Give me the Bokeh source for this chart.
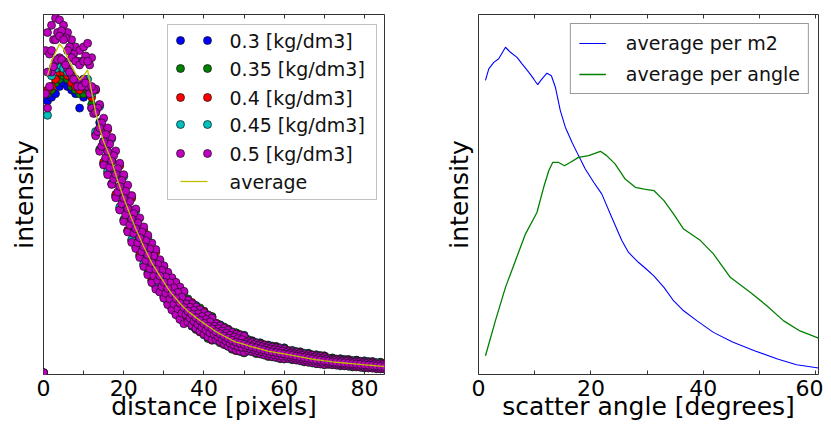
from bokeh.plotting import figure
from bokeh.models import (Range1d, FixedTicker, LinearAxis, BoxAnnotation, Label,
                          Legend, LegendItem)
from bokeh.layouts import row
from bokeh.embed import file_html
from bokeh.resources import INLINE

# ---------------- left panel data ----------------
distance = list(range(86))
half_distance = [d + 0.5 for d in range(85)]

dens_03 = [0.004,
    0.76, 0.77, 0.78, 0.80, 0.81, 0.80, 0.79, 0.78, 0.74, 0.77, 0.78, 0.74,
    0.668, 0.700, 0.585, 0.620, 0.530, 0.556, 0.460, 0.490, 0.400, 0.432,
    0.355, 0.380, 0.305, 0.332, 0.260, 0.292, 0.230, 0.257, 0.196, 0.224, 0.170, 0.198, 0.145,
    0.176, 0.134, 0.192, 0.150, 0.176, 0.134, 0.160, 0.119, 0.138, 0.107, 0.126, 0.095, 0.115, 0.087, 0.109,
    0.080, 0.094, 0.074, 0.088, 0.068, 0.082, 0.063, 0.078, 0.059, 0.074, 0.055, 0.067, 0.051, 0.063, 0.047,
    0.059, 0.043, 0.055, 0.040, 0.052, 0.037, 0.046, 0.034, 0.044, 0.032, 0.042, 0.030, 0.040, 0.028, 0.038,
    0.026, 0.036, 0.024, 0.034, 0.022]

dens_035 = [0.004,
    0.78, 0.79, 0.81, 0.82, 0.83, 0.82, 0.80, 0.79, 0.78, 0.78, 0.79, 0.75,
    0.728, 0.625, 0.647, 0.560, 0.593, 0.495, 0.522, 0.430, 0.461, 0.372,
    0.405, 0.330, 0.355, 0.282, 0.310, 0.243, 0.274, 0.215, 0.239, 0.183, 0.211, 0.157, 0.186,
    0.210, 0.167, 0.125, 0.185, 0.142, 0.100, 0.161, 0.119, 0.088, 0.132, 0.101, 0.070, 0.116, 0.087, 0.060,
    0.097, 0.077, 0.058, 0.087, 0.068, 0.050, 0.079, 0.061, 0.044, 0.073, 0.055, 0.041, 0.064, 0.049, 0.035,
    0.058, 0.043, 0.030, 0.053, 0.038, 0.028, 0.045, 0.034, 0.024, 0.042, 0.031, 0.021, 0.039, 0.028, 0.018,
    0.036, 0.025, 0.016, 0.033, 0.022]

dens_04 = [0.004,
    0.79, 0.80, 0.82, 0.84, 0.84, 0.83, 0.81, 0.80, 0.79, 0.80, 0.80, 0.77,
    0.790, 0.685, 0.590, 0.680, 0.593, 0.500, 0.580, 0.490, 0.400, 0.490,
    0.405, 0.333, 0.400, 0.332, 0.262, 0.340, 0.274, 0.300, 0.239, 0.185, 0.252, 0.198, 0.147,
    0.176, 0.200, 0.158, 0.118, 0.175, 0.134, 0.095, 0.143, 0.113, 0.083, 0.125, 0.095, 0.066, 0.111, 0.084,
    0.065, 0.092, 0.074, 0.057, 0.083, 0.065, 0.049, 0.076, 0.059, 0.043, 0.067, 0.053, 0.040, 0.061, 0.047,
    0.034, 0.055, 0.041, 0.029, 0.050, 0.037, 0.027, 0.043, 0.033, 0.024, 0.040, 0.030, 0.021, 0.037, 0.027,
    0.018, 0.034, 0.024, 0.016, 0.031]

dens_045 = [0.004,
    0.72, 0.83, 0.85, 0.86, 0.85, 0.84, 0.83, 0.82, 0.81, 0.82, 0.82, 0.78,
    0.675, 0.745, 0.647, 0.565, 0.655, 0.556, 0.465, 0.550, 0.461, 0.375,
    0.455, 0.380, 0.308, 0.380, 0.310, 0.245, 0.316, 0.257, 0.200, 0.266, 0.211, 0.158, 0.228,
    0.176, 0.135, 0.190, 0.150, 0.110, 0.166, 0.127, 0.095, 0.137, 0.107, 0.078, 0.119, 0.090, 0.064, 0.108,
    0.080, 0.063, 0.089, 0.071, 0.054, 0.080, 0.063, 0.047, 0.074, 0.057, 0.044, 0.065, 0.051, 0.038, 0.059,
    0.045, 0.032, 0.053, 0.040, 0.027, 0.046, 0.035, 0.026, 0.042, 0.032, 0.023, 0.039, 0.029, 0.020, 0.036,
    0.026, 0.018, 0.033, 0.023, 0.016]

# 0.5 kg/dm3 (drawn on top): points across the band, at whole and half pixel distances
dens_05_upper = [0.005,
    0.95, 0.97, 0.99, 0.985, 0.97, 0.95, 0.93, 0.91, 0.90, 0.91, 0.92, 0.88,
    0.793, 0.750, 0.712, 0.685, 0.658, 0.621, 0.587, 0.555, 0.526, 0.497,
    0.460, 0.435, 0.410, 0.387, 0.365, 0.347, 0.319, 0.302, 0.284, 0.269, 0.256, 0.243, 0.231,
    0.206, 0.197, 0.188, 0.180, 0.172, 0.164, 0.157, 0.141, 0.135, 0.129, 0.123, 0.117, 0.112, 0.109, 0.106,
    0.093, 0.090, 0.087, 0.084, 0.081, 0.078, 0.076, 0.074, 0.072, 0.070, 0.065, 0.063, 0.061, 0.059, 0.057,
    0.055, 0.053, 0.051, 0.050, 0.048, 0.044, 0.042, 0.041, 0.040, 0.039, 0.038, 0.037, 0.036, 0.035, 0.034,
    0.033, 0.032, 0.031, 0.030, 0.029]

dens_05_middle = [0.005,
    0.84, 0.90, 0.93, 0.94, 0.93, 0.90, 0.88, 0.87, 0.86, 0.87, 0.87, 0.80,
    0.728, 0.685, 0.647, 0.620, 0.593, 0.556, 0.522, 0.490, 0.461, 0.432,
    0.405, 0.380, 0.355, 0.332, 0.310, 0.292, 0.274, 0.257, 0.239, 0.224, 0.211, 0.198, 0.186,
    0.176, 0.167, 0.158, 0.150, 0.142, 0.134, 0.127, 0.119, 0.113, 0.107, 0.101, 0.095, 0.090, 0.087, 0.084,
    0.080, 0.077, 0.074, 0.071, 0.068, 0.065, 0.063, 0.061, 0.059, 0.057, 0.055, 0.053, 0.051, 0.049, 0.047,
    0.045, 0.043, 0.041, 0.040, 0.038, 0.037, 0.035, 0.034, 0.033, 0.032, 0.031, 0.030, 0.029, 0.028, 0.027,
    0.026, 0.025, 0.024, 0.023, 0.022]

dens_05_lower = [0.005,
    0.74, 0.84, 0.87, 0.88, 0.87, 0.85, 0.83, 0.82, 0.81, 0.82, 0.80, 0.74,
    0.663, 0.620, 0.582, 0.555, 0.528, 0.491, 0.457, 0.425, 0.396, 0.367,
    0.350, 0.325, 0.300, 0.277, 0.255, 0.237, 0.229, 0.212, 0.194, 0.179, 0.166, 0.153, 0.141,
    0.146, 0.137, 0.128, 0.120, 0.112, 0.104, 0.097, 0.097, 0.091, 0.085, 0.079, 0.073, 0.068, 0.065, 0.062,
    0.067, 0.064, 0.061, 0.058, 0.055, 0.052, 0.050, 0.048, 0.046, 0.044, 0.045, 0.043, 0.041, 0.039, 0.037,
    0.035, 0.033, 0.031, 0.030, 0.028, 0.030, 0.028, 0.027, 0.026, 0.025, 0.024, 0.023, 0.022, 0.021, 0.020,
    0.019, 0.018, 0.017, 0.016, 0.015]

dens_05_upper_half = [
    0.90, 0.89, 0.93, 0.95, 0.955, 0.935, 0.91, 0.89, 0.87, 0.87,
    0.885, 0.86, 0.790, 0.740, 0.699, 0.667, 0.640, 0.608, 0.572, 0.539,
    0.509, 0.480, 0.447, 0.421, 0.396, 0.372, 0.349, 0.329, 0.306, 0.289,
    0.271, 0.255, 0.241, 0.228, 0.215, 0.196, 0.187, 0.178, 0.169, 0.161,
    0.153, 0.146, 0.134, 0.127, 0.121, 0.115, 0.109, 0.104, 0.100, 0.097,
    0.089, 0.086, 0.083, 0.080, 0.077, 0.074, 0.071, 0.069, 0.067, 0.065,
    0.061, 0.059, 0.057, 0.055, 0.053, 0.051, 0.049, 0.047, 0.046, 0.044,
    0.042, 0.040, 0.039, 0.038, 0.037, 0.036, 0.035, 0.034, 0.033, 0.032,
    0.031, 0.030, 0.029, 0.028, 0.027]

dens_05_lower_half = [
    0.78, 0.80, 0.855, 0.875, 0.875, 0.86, 0.84, 0.82, 0.80, 0.80,
    0.81, 0.78, 0.725, 0.675, 0.634, 0.602, 0.575, 0.543, 0.507, 0.474,
    0.444, 0.415, 0.392, 0.366, 0.341, 0.317, 0.294, 0.274, 0.261, 0.244,
    0.226, 0.210, 0.196, 0.183, 0.170, 0.166, 0.157, 0.148, 0.139, 0.131,
    0.123, 0.116, 0.112, 0.105, 0.099, 0.093, 0.087, 0.082, 0.078, 0.075,
    0.075, 0.072, 0.069, 0.066, 0.063, 0.060, 0.057, 0.055, 0.053, 0.051,
    0.051, 0.049, 0.047, 0.045, 0.043, 0.041, 0.039, 0.037, 0.036, 0.034,
    0.034, 0.032, 0.031, 0.030, 0.029, 0.028, 0.027, 0.026, 0.025, 0.024,
    0.023, 0.022, 0.021, 0.020, 0.019]

avg_distance = list(range(1, 86))
average = [
    0.830, 0.870, 0.895, 0.918, 0.905, 0.880, 0.858, 0.836, 0.818, 0.830, 0.846, 0.785,
    0.728, 0.685, 0.647, 0.620, 0.593, 0.556, 0.522, 0.490, 0.461, 0.432,
    0.405, 0.380, 0.355, 0.332, 0.310, 0.292, 0.274, 0.257, 0.239, 0.224, 0.211, 0.198, 0.186,
    0.176, 0.167, 0.158, 0.150, 0.142, 0.134, 0.127, 0.119, 0.113, 0.107, 0.101, 0.095, 0.090, 0.087, 0.084,
    0.080, 0.077, 0.074, 0.071, 0.068, 0.065, 0.063, 0.061, 0.059, 0.057, 0.055, 0.053, 0.051, 0.049, 0.047,
    0.045, 0.043, 0.041, 0.040, 0.038, 0.037, 0.035, 0.034, 0.033, 0.032, 0.031, 0.030, 0.029, 0.028, 0.027,
    0.026, 0.025, 0.024, 0.023, 0.022]

series_labels = ["0.3 [kg/dm3]", "0.35 [kg/dm3]", "0.4 [kg/dm3]", "0.45 [kg/dm3]", "0.5 [kg/dm3]"]
series_colors = ["#0000ff", "#008000", "#ff0000", "#00bfbf", "#bf00bf"]

# ---------------- right panel data ----------------
angle_m2 = [1.24, 1.83, 2.72, 3.6, 4.8, 5.68, 6.86, 7.75, 8.93, 9.82, 10.53, 11.3, 12.19,
            12.97, 13.68, 14.56, 15.45, 16.63, 17.8, 19.0, 20.5, 21.95, 23.7, 25.5, 26.7,
            28.5, 30.0, 31.2, 33.0, 34.7, 36.5, 38.9, 41.8, 45.2, 49.1, 53.2, 56.6, 60.5]
avg_per_m2 = [0.817, 0.849, 0.867, 0.877, 0.909, 0.895, 0.881, 0.863, 0.840, 0.821, 0.805, 0.821, 0.837,
              0.830, 0.798, 0.733, 0.687, 0.645, 0.608, 0.571, 0.534, 0.501, 0.437, 0.372, 0.339,
              0.311, 0.291, 0.274, 0.242, 0.205, 0.177, 0.149, 0.117, 0.090, 0.066, 0.043, 0.027, 0.018]

angle_ang = [1.24, 3.0, 4.8, 6.57, 8.35, 10.4, 11.6, 12.5, 13.2, 14.26, 15.3, 16.3, 17.8,
             19.6, 21.7, 22.8, 24.3, 26.1, 27.9, 29.5, 31.2, 33.0, 34.7, 36.5, 39.5,
             41.8, 44.8, 48.4, 51.3, 54.3, 57.2, 60.5]
avg_per_angle = [0.052, 0.149, 0.242, 0.316, 0.390, 0.450, 0.520, 0.566, 0.589, 0.589, 0.580, 0.589, 0.603,
                 0.608, 0.620, 0.608, 0.585, 0.543, 0.520, 0.515, 0.511, 0.483, 0.446, 0.404, 0.372,
                 0.335, 0.270, 0.228, 0.191, 0.149, 0.121, 0.101]

line_labels = ["average per m2", "average per angle"]
line_colors = ["#0000ff", "#008000"]

FONT = "DejaVu Sans"
FRAME_TOP = 14
FRAME_H = 360
FIG_H = 428
MS = 8
EDGE = dict(line_color="#111111", line_width=0.7)


def style(p, major, minor):
    p.grid.visible = False
    p.outline_line_color = "#333333"
    p.outline_line_width = 1
    p.background_fill_color = "white"
    p.border_fill_color = "white"
    xa = p.below[0]
    xa.ticker = FixedTicker(ticks=major, minor_ticks=minor)
    xa.major_label_text_font = FONT
    xa.major_label_text_font_size = "22px"
    xa.major_label_text_color = "black"
    xa.major_label_standoff = 5
    xa.major_tick_in = 4
    xa.major_tick_out = 0
    xa.minor_tick_in = 4
    xa.minor_tick_out = 0
    xa.major_tick_line_color = "#333333"
    xa.minor_tick_line_color = "#333333"
    xa.axis_line_color = None
    xa.axis_label_text_font = FONT
    xa.axis_label_text_font_size = "25px"
    xa.axis_label_text_font_style = "normal"
    xa.axis_label_text_color = "black"
    xa.axis_label_standoff = -7
    ya = p.left[0]
    ya.ticker = FixedTicker(ticks=[], minor_ticks=[])
    ya.major_tick_line_color = None
    ya.minor_tick_line_color = None
    ya.axis_line_color = None
    ya.axis_label_text_font = FONT
    ya.axis_label_text_font_size = "25px"
    ya.axis_label_text_font_style = "normal"
    ya.axis_label_text_color = "black"
    ya.axis_label_standoff = 5
    top = LinearAxis(ticker=FixedTicker(ticks=[], minor_ticks=sorted(major + minor)),
                     minor_tick_in=4, minor_tick_out=0, minor_tick_line_color="#333333",
                     major_tick_line_color=None, axis_line_color=None)
    p.add_layout(top, "above")


# ---------------- left figure ----------------
L_LEFT, L_W = 43, 341   # frame position on the page
p1 = figure(width=404, height=FIG_H, x_range=Range1d(0, 85), y_range=Range1d(0, 1),
            output_backend="svg", toolbar_location=None,
            min_border_left=L_LEFT, min_border_right=20, min_border_top=FRAME_TOP,
            min_border_bottom=FIG_H - FRAME_TOP - FRAME_H,
            x_axis_label="distance [pixels]", y_axis_label="intensity")
style(p1, [0, 20, 40, 60, 80], [10, 30, 50, 70])


def lx(page_px):
    return (page_px - L_LEFT) / L_W * 85.0


def ly(page_py):
    return (FRAME_TOP + FRAME_H - page_py) / FRAME_H


for vals, col in zip([dens_03, dens_035, dens_04, dens_045], series_colors[:4]):
    p1.scatter(distance, vals, size=MS, fill_color=col, **EDGE)
mag = series_colors[4]
p1.scatter(distance, dens_05_lower, size=MS, fill_color=mag, **EDGE)
p1.scatter(half_distance, dens_05_lower_half, size=MS, fill_color=mag, **EDGE)
p1.scatter(distance, dens_05_upper, size=MS, fill_color=mag, **EDGE)
p1.scatter(half_distance, dens_05_upper_half, size=MS, fill_color=mag, **EDGE)
p1.scatter(distance, dens_05_middle, size=MS, fill_color=mag, **EDGE)
p1.line(avg_distance, average, line_color="#bfbf00", line_width=1.3)

# legend (matplotlib style, two markers per entry)
p1.add_layout(BoxAnnotation(left=lx(167), right=lx(376), top=ly(24), bottom=ly(199),
                            fill_color="white", fill_alpha=1.0, line_color="#333333", line_width=1))
rows = [40, 68, 97, 124, 153, 181]
for i, (lab, col) in enumerate(zip(series_labels, series_colors)):
    yy = ly(rows[i])
    p1.scatter([lx(180), lx(207)], [yy, yy], size=MS, fill_color=col, level="overlay", **EDGE)
    p1.add_layout(Label(x=lx(229), y=yy, text=lab, text_baseline="middle", text_font=FONT,
                        text_font_size="19px", text_color="#111111", level="overlay"))
yy = ly(rows[5])
p1.line([lx(180), lx(207)], [yy, yy], line_color="#bfbf00", line_width=1.3, level="overlay")
p1.add_layout(Label(x=lx(229), y=yy, text="average", text_baseline="middle", text_font=FONT,
                    text_font_size="19px", text_color="#111111", level="overlay"))

# ---------------- right figure ----------------
p2 = figure(width=419, height=FIG_H, x_range=Range1d(0, 60.5), y_range=Range1d(0, 1),
            output_backend="svg", toolbar_location=None,
            min_border_left=74, min_border_right=5, min_border_top=FRAME_TOP,
            min_border_bottom=FIG_H - FRAME_TOP - FRAME_H,
            x_axis_label="scatter angle [degrees]", y_axis_label="intensity")
style(p2, [0, 20, 40, 60], [10, 30, 50])

r1 = p2.line(angle_m2, avg_per_m2, line_color=line_colors[0], line_width=1.1)
r2 = p2.line(angle_ang, avg_per_angle, line_color=line_colors[1], line_width=1.3)
leg = Legend(items=[LegendItem(label=line_labels[0], renderers=[r1]),
                    LegendItem(label=line_labels[1], renderers=[r2])],
             location="top_right", margin=9, padding=8, spacing=9,
             glyph_width=27, glyph_height=20, label_height=20, label_standoff=20,
             label_text_font=FONT, label_text_font_size="19px", label_text_color="#111111",
             border_line_color="#333333", border_line_width=1, background_fill_alpha=1.0)
p2.add_layout(leg)

layout = row(p1, p2)
open("out.html", "w").write(file_html(layout, INLINE))
